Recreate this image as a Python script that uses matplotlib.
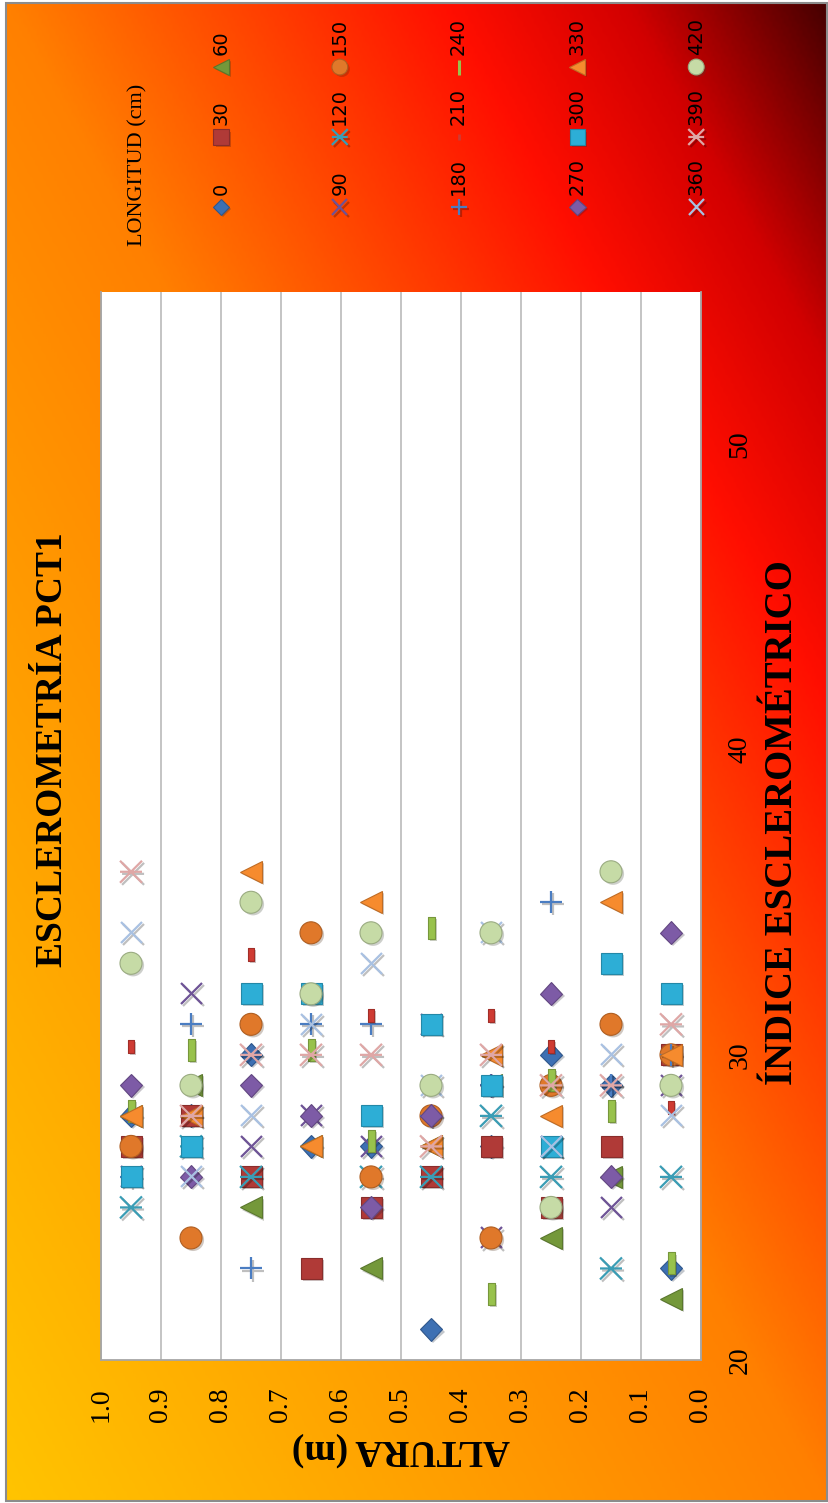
import numpy as np
import matplotlib
matplotlib.use("Agg")
import matplotlib.pyplot as plt
import matplotlib.patheffects as pe
from matplotlib.path import Path
from matplotlib.colors import LinearSegmentedColormap, to_rgb
from matplotlib.patches import Rectangle

# alturas de lectura (m) y longitudes (cm)
alturas = [0.05, 0.15, 0.25, 0.35, 0.45, 0.55, 0.65, 0.75, 0.85, 0.95]
longitudes = [0, 30, 60, 90, 120, 150, 180, 210, 240, 270, 300, 330, 360, 390, 420]

# indice esclerometrico por longitud, en el orden de las alturas (None = sin lectura visible)
ind_0 = [23, 29, 30, 27, 21, 27, 27, 30, 28, 28]
ind_30 = [30, 27, 25, 27, 26, 25, 23, 26, 28, 27]
ind_60 = [22, 26, 24, 29, 27, 23, 27, 25, 29, 28]
ind_90 = [29, 25, 27, 24, 31, 27, 28, 27, 32, 26]
ind_120 = [26, 23, 26, 28, 26, 26, None, 26, 27, 25]
ind_150 = [30, 31, 29, 24, 28, 26, 34, 31, 24, 27]
ind_180 = [30, 29, 35, 29, 28, 31, 31, 23, 31, 26]
ind_210 = [28, None, 30, 31, None, 31, None, 33, None, 30]
ind_240 = [23, 28, 29, 22, 34, 27, 30, None, 30, 28]
ind_270 = [34, 26, 32, 29, 28, 25, 28, 29, 26, 29]
ind_300 = [32, 33, 27, 29, 31, 28, 32, 32, 27, 26]
ind_330 = [30, 35, 28, 30, 27, 35, 27, 36, 28, 28]
ind_360 = [28, 30, 27, 34, 29, 33, 31, 28, 26, 34]
ind_390 = [31, 29, 29, 30, 27, 30, 30, 30, 28, 36]
ind_420 = [29, 36, 25, 34, 29, 34, 32, 35, 29, 33]

series = [ind_0, ind_30, ind_60, ind_90, ind_120, ind_150, ind_180, ind_210,
          ind_240, ind_270, ind_300, ind_330, ind_360, ind_390, ind_420]

W, H, DPI = 829, 1503, 100
PT = 72 / DPI  # px -> pt

plt.rcParams['font.family'] = ['Liberation Serif', 'DejaVu Serif']

M, L = Path.MOVETO, Path.LINETO
asterisco = Path([(-1, -1), (1, 1), (-1, 1), (1, -1), (-1, 0), (1, 0)], [M, L, M, L, M, L])
guion_corto = Path([(-3, 2), (3, 2), (3, 15), (-3, 15), (-3, 2)], closed=True)
guion_largo = Path([(-3.5, -6), (3.5, -6), (3.5, 16), (-3.5, 16), (-3.5, -6)], closed=True)

# (marcador, tamano en px, relleno)
estilos = [
    ("D", 16.2, True), ("s", 21, True), ("<", 22, True), ("x", 21, False),
    (asterisco, 22, False), ("o", 22, True), ("+", 22, False),
    (guion_corto, 30, True), (guion_largo, 32, True),
    ("D", 16.2, True), ("s", 21, True), ("<", 22, True), ("x", 21, False),
    (asterisco, 22, False), ("o", 22, True),
]
colores = ['#3D70B3', '#B03A37', '#74983A', '#6E5396', '#3A9DB5', '#E0782A',
           '#4A7DC2', '#CF3B33', '#98C24C', '#7D5BA6', '#2DAED6', '#F68B2E',
           '#A9C1E2', '#DFA7A6', '#C6DBA6']


def oscuro(c, f=0.78):
    return tuple(v * f for v in to_rgb(c))


def kw_marcador(i, escala=1.0):
    m, tam, relleno = estilos[i]
    c = colores[i]
    if relleno:
        return dict(marker=m, markersize=tam * escala * PT, markerfacecolor=c,
                    markeredgecolor=oscuro(c), markeredgewidth=0.8,
                    path_effects=[pe.SimplePatchShadow(offset=(1.5, -1.5), alpha=0.25), pe.Normal()])
    return dict(marker=m, markersize=tam * escala * PT, markerfacecolor='none',
                markeredgecolor=c, markeredgewidth=1.6,
                path_effects=[pe.SimpleLineShadow(offset=(1.5, -1.5), alpha=0.25), pe.Normal()])


fig = plt.figure(figsize=(W / DPI, H / DPI), dpi=DPI, facecolor='white')

# fondo degradado del grafico
bg = fig.add_axes([0, 0, 1, 1], zorder=-2)
bg.set_xlim(0, W)
bg.set_ylim(H, 0)
bg.axis('off')
gx, gy = np.meshgrid(np.linspace(0, 1, 300), np.linspace(0, 1, 500))
t = (gx + 1 - gy) / 2
cmap = LinearSegmentedColormap.from_list('fondo', [
    (0.0, '#FFC400'), (0.5, '#FF8000'), (0.77, '#FF0E00'), (0.88, '#D20000'), (1.0, '#480000')])
bg.imshow(cmap(t), extent=(6, W - 2, H - 2, 3), aspect='auto', interpolation='bilinear')
bg.add_patch(Rectangle((6, 3), W - 8, H - 5, fill=False, edgecolor='#8C8C8C', lw=1.5))

# area de trazado
ax = fig.add_axes([101 / W, 1 - 1360 / H, 600 / W, (1360 - 292) / H])
ax.set_facecolor('white')
for i, ind in enumerate(series):
    y = [np.nan if v is None else v for v in ind]
    ax.plot(alturas, y, linestyle='none', label=str(longitudes[i]), **kw_marcador(i))

ax.set_xlim(1.0, 0.0)
ax.set_ylim(20, 55)
ax.set_xticks(np.arange(0, 1.01, 0.1))
ax.xaxis.set_major_formatter('{x:.1f}')
ax.set_yticks([20, 30, 40, 50])
ax.yaxis.tick_right()
ax.tick_params(axis='x', length=0, pad=20, labelrotation=90, labelsize=20)
ax.tick_params(axis='y', length=0, pad=19, labelrotation=90, labelsize=20)
for lab in ax.get_yticklabels():
    lab.set_va('center')
ax.grid(axis='x', color='#BFBFBF', lw=1.3)
ax.grid(axis='y', visible=False)
ax.set_axisbelow(True)
ax.spines['top'].set_visible(False)
for s in ['left', 'right', 'bottom']:
    ax.spines[s].set_color('#A6A6A6')
    ax.spines[s].set_linewidth(1.3)

# textos
fig.text(53 / W, 1 - 750 / H, 'ESCLEROMETRÍA PCT1', rotation=90, ha='center', va='center',
         fontsize=27, fontweight='bold')
fig.text(783 / W, 1 - 823 / H, 'ÍNDICE ESCLEROMÉTRICO', rotation=90, ha='center', va='center',
         fontsize=28, fontweight='bold')
fig.text(401 / W, 1 - 1450 / H, 'ALTURA (m)', rotation=180, ha='center', va='center',
         fontsize=27, fontweight='bold')

# leyenda
lg = fig.add_axes([0, 0, 1, 1], zorder=3)
lg.set_xlim(0, W)
lg.set_ylim(H, 0)
lg.axis('off')
lg.text(138, 165, 'LONGITUD (cm)', rotation=90, ha='center', va='center', fontsize=16)
for i, lon in enumerate(longitudes):
    x = 221 + (i // 3) * 118.8
    y = 207 - (i % 3) * 70
    kw = kw_marcador(i, 0.72)
    if estilos[i][0] is guion_corto:
        kw.update(marker='|', markersize=6 * PT, markeredgewidth=2, markeredgecolor=colores[i])
    elif estilos[i][0] is guion_largo:
        kw.update(marker='|', markersize=15 * PT, markeredgewidth=2.2, markeredgecolor=colores[i])
    lg.plot([x], [y], linestyle='none', **kw)
    lg.text(x, y - 12, str(lon), rotation=90, ha='center', va='bottom', fontsize=14,
            family='DejaVu Sans')

fig.savefig('out.png', dpi=DPI, facecolor='white')
